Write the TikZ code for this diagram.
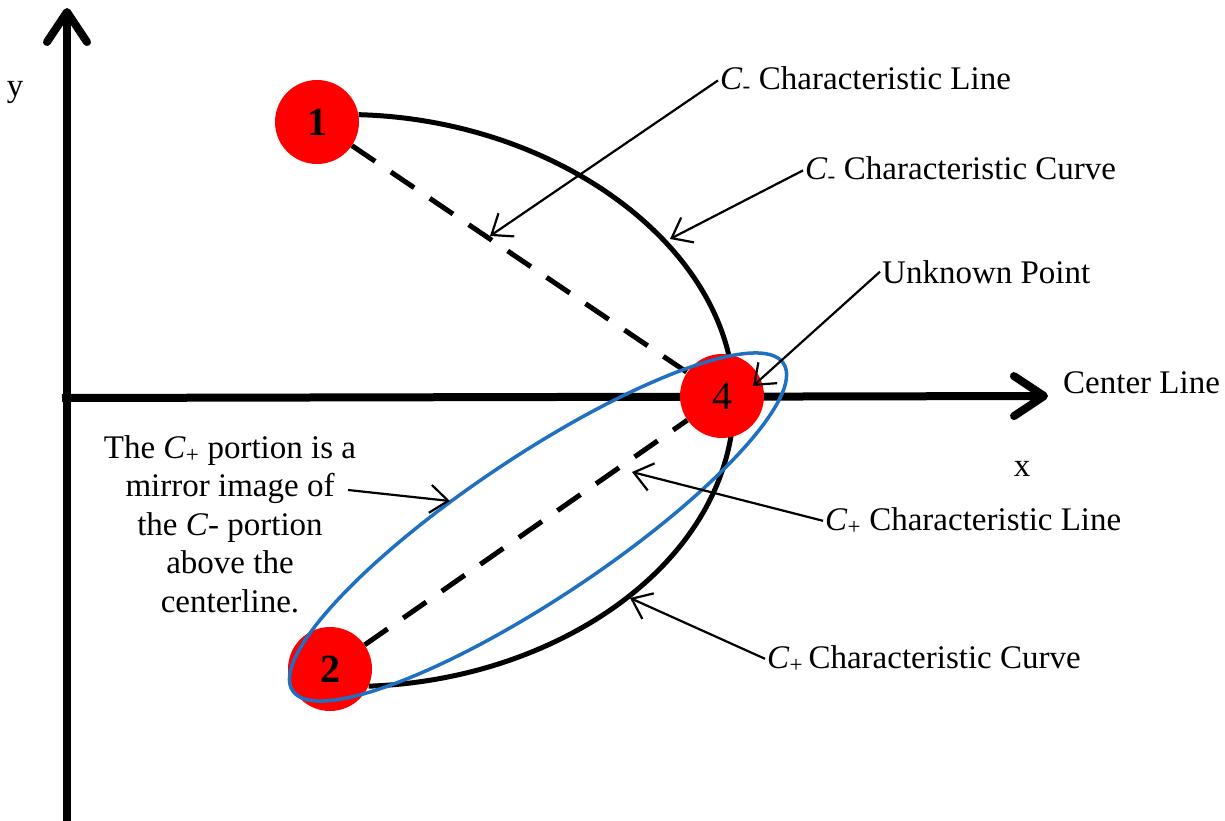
\documentclass[tikz,border=0pt]{standalone}
\usepackage{fontspec}
\setmainfont{Liberation Serif}
\definecolor{pointRed}{HTML}{FF0000}
\definecolor{loopBlue}{HTML}{1F70C1}
\usetikzlibrary{arrows.meta, backgrounds}
\tikzset{
  axisline/.style={line width=8pt, -{Straight Barb[length=30pt, width=40pt, round]}},
  charcurve/.style={line width=5pt},
  charline/.style={line width=5pt, dash pattern=on 28pt off 19pt},
  pointdot/.style={circle, fill=pointRed, minimum size=84pt, inner sep=0pt, font=\fontsize{40}{40}\selectfont},
  callout/.style={font=\fontsize{33}{38.5}\selectfont, inner sep=2pt},
  pointer/.style={line width=2.2pt, -{Straight Barb[length=18pt, width=28pt]}},
}

\begin{document}
\begin{tikzpicture}[x=1pt, y=-1pt]
  \useasboundingbox (0,0) rectangle (1225,821);

  % grid points
  \node[pointdot] (n1) at (317,122) {\bfseries 1};
  \node[pointdot] (n2) at (330,669) {\bfseries 2};
  \node[pointdot] (n4) at (722,396) {4};

  % axes and characteristics go under the points
  \coordinate (yFrom) at (67,821);
  \coordinate (yTo) at (67,8);
  \coordinate (xFrom) at (62,398);
  \coordinate (xTo) at (1048,396);
  \coordinate (apex) at (734,400);
  \begin{scope}[on background layer]
    \draw[axisline] (yFrom) -- (yTo);
    \draw[axisline] (xFrom) -- (xTo);
    \draw[charcurve] (n1.10) .. controls (560,120) and (734,250) .. (apex)
                     .. controls (734,560) and (560,680) .. (n2.-24);
    \draw[charline] (n1) -- (n4);
    \draw[charline] (n2) -- (n4);
  \end{scope}

  % mirror region
  \draw[loopBlue, line width=3.5pt, shift={(538,527)}, rotate=33.7]
    (0,0) ellipse [x radius=295, y radius=71];

  % labels
  \node[callout, anchor=base] (lblY) at (15,97) {y};
  \node[callout, anchor=base] (lblX) at (1022,476) {x};
  \node[callout, anchor=base west] (lblCenter) at (1061,393) {Center Line};
  \node[callout, anchor=base west] (lblCmLine) at (718,90) {\textit{C}\textsubscript{-} Characteristic Line};
  \node[callout, anchor=base west] (lblCmCurve) at (803,180) {\textit{C}\textsubscript{-} Characteristic Curve};
  \node[callout, anchor=base west] (lblUnknown) at (880,283) {Unknown Point};
  \node[callout, anchor=base west] (lblCpLine) at (823,530) {\textit{C}\textsubscript{+} Characteristic Line};
  \node[callout, anchor=base west] (lblCpCurve) at (765,668) {\textit{C}\textsubscript{+}\,Characteristic Curve};
  \node[callout, align=center, anchor=north] (lblMirror) at (230,433)
    {The \textit{C}\textsubscript{+} portion is a\\ mirror image of\\ the \textit{C}- portion\\ above the\\ centerline.};

  % pointers
  \coordinate (tipCmLine) at (490,236);
  \coordinate (tipCmCurve) at (670,239);
  \coordinate (tipUnknown) at (753,386);
  \coordinate (tipCpLine) at (632,472);
  \coordinate (tipCpCurve) at (630,598);
  \coordinate (mirrorFrom) at (348,490);
  \coordinate (tipMirror) at (450,501);
  \draw[pointer] (lblCmLine.west) -- (tipCmLine);
  \draw[pointer] (lblCmCurve.west) -- (tipCmCurve);
  \draw[pointer] (lblUnknown.west) -- (tipUnknown);
  \draw[pointer] (lblCpLine.west) -- (tipCpLine);
  \draw[pointer] (lblCpCurve.west) -- (tipCpCurve);
  \draw[pointer] (mirrorFrom) -- (tipMirror);
\end{tikzpicture}
\end{document}
